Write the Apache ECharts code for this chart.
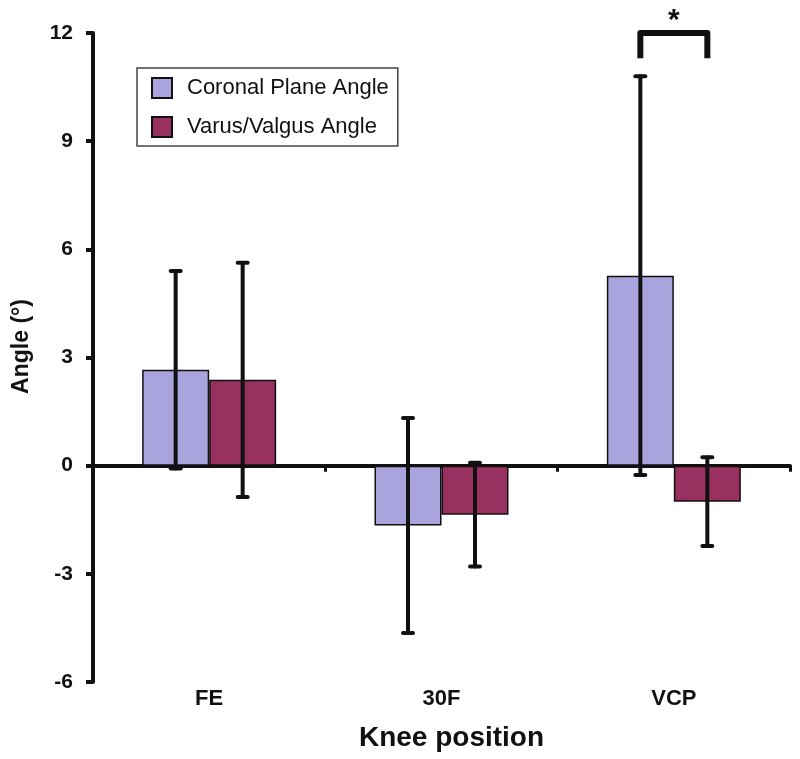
<!DOCTYPE html>
<html>
<head>
  <meta charset="utf-8">
  <title>Knee position angles</title>
  <script src="https://cdn.jsdelivr.net/npm/echarts@6/dist/echarts.min.js"></script>
</head>
<body style="margin:0;background:#fff;">
<div id="main" style="width:800px;height:759px;"></div>
<script type="text/javascript">
  // data
  var positions = ['FE', '30F', 'VCP'];
  var coronalMean = [2.66, -1.66, 5.27];
  var coronalSD = [2.74, 2.98, 5.53];
  var varusMean = [2.38, -1.36, -1.0];
  var varusSD = [3.25, 1.44, 1.23];
  var yTicks = [-6, -3, 0, 3, 6, 9, 12];
  // significance bracket: category, top and leg end (degrees)
  var sigBracket = [['VCP', 12, 11.3]];

  var barW = 67;
  var black = '#111';

  function errData(mean, sd, side) {
    return mean.map(function (m, i) {
      return [i, m + sd[i], m - sd[i], side];
    });
  }

  function renderErr(params, api) {
    var side = api.value(3);
    var x = api.coord([api.value(0), 0])[0] + side * barW / 2;
    var hi = api.coord([api.value(0), api.value(1)])[1];
    var lo = api.coord([api.value(0), api.value(2)])[1];
    var st = { stroke: black, lineWidth: 4, lineCap: 'round' };
    return {
      type: 'group',
      children: [
        { type: 'line', shape: { x1: x, y1: hi, x2: x, y2: lo }, style: st },
        { type: 'line', shape: { x1: x - 5, y1: hi, x2: x + 5, y2: hi }, style: st },
        { type: 'line', shape: { x1: x - 5, y1: lo, x2: x + 5, y2: lo }, style: st }
      ]
    };
  }

  var myChart = echarts.init(document.getElementById('main'));

  option = {
    backgroundColor: '#fff',
    animation: false,
    textStyle: { fontFamily: 'Liberation Sans, Arial, sans-serif' },
    grid: { left: 93, right: 10, top: 33, bottom: 77, outerBoundsMode: 'none', containLabel: false },
    legend: {
      orient: 'vertical',
      left: 137,
      top: 68,
      padding: [9, 9, 8, 14],
      itemGap: 17,
      itemWidth: 20,
      itemHeight: 20,
      icon: 'rect',
      backgroundColor: '#fff',
      borderColor: '#444',
      borderWidth: 1.5,
      borderRadius: 0,
      textStyle: { fontSize: 22, color: '#111', padding: [0, 0, 0, 10] },
      data: ['Coronal Plane Angle', 'Varus/Valgus Angle']
    },
    xAxis: [
      {
        type: 'category',
        data: positions,
        axisLine: { onZero: true, lineStyle: { color: black, width: 4 } },
        axisTick: { show: true, length: 6, lineStyle: { color: black, width: 3 } },
        axisLabel: { show: false }
      },
      {
        type: 'category',
        data: positions,
        position: 'bottom',
        axisLine: { show: false, onZero: false },
        axisTick: { show: false },
        axisLabel: { fontSize: 22, fontWeight: 'bold', color: '#111', margin: 6 },
        name: 'Knee position',
        nameLocation: 'middle',
        nameGap: 42,
        nameTextStyle: { fontSize: 28, fontWeight: 'bold', color: '#111', padding: [0, 0, 0, 20] }
      }
    ],
    yAxis: {
      type: 'value',
      min: -6,
      max: 12,
      interval: 3,
      splitLine: { show: false },
      axisLine: { show: true, lineStyle: { color: black, width: 4 } },
      axisTick: { show: true, length: 7, lineStyle: { color: black, width: 4 } },
      axisLabel: {
        fontSize: 21, fontWeight: 'bold', color: '#111', margin: 20,
        formatter: function (v) { return yTicks.indexOf(v) >= 0 ? String(v) : ''; }
      },
      name: 'Angle (°)',
      nameLocation: 'middle',
      nameRotate: 90,
      nameGap: 60,
      nameTextStyle: { fontSize: 23, fontWeight: 'bold', color: '#111', padding: [0, 0, 0, 22] }
    },
    series: [
      {
        name: 'Coronal Plane Angle',
        type: 'bar',
        data: coronalMean,
        barWidth: barW,
        barGap: '0%',
        itemStyle: { color: '#aaa4de', borderColor: black, borderWidth: 1.5 }
      },
      {
        name: 'Varus/Valgus Angle',
        type: 'bar',
        data: varusMean,
        barWidth: barW,
        barGap: '0%',
        itemStyle: { color: '#983160', borderColor: black, borderWidth: 1.5 }
      },
      {
        type: 'custom',
        data: errData(coronalMean, coronalSD, -1).concat(errData(varusMean, varusSD, 1)),
        renderItem: renderErr,
        clip: false,
        z: 5,
        silent: true
      },
      {
        type: 'custom',
        data: sigBracket.map(function (b) { return [positions.indexOf(b[0]), b[1], b[2]]; }),
        clip: false,
        silent: true,
        z: 6,
        renderItem: function (params, api) {
          var cx = api.coord([api.value(0), 0])[0];
          var top = api.coord([api.value(0), api.value(1)])[1];
          var leg = api.coord([api.value(0), api.value(2)])[1];
          var x1 = cx - barW / 2, x2 = cx + barW / 2;
          return {
            type: 'group',
            children: [
              {
                type: 'polyline',
                shape: { points: [[x1, leg], [x1, top], [x2, top], [x2, leg]] },
                style: { stroke: black, lineWidth: 6, fill: null, lineJoin: 'round' }
              },
              {
                type: 'text',
                style: { text: '*', x: cx, y: top - 12, align: 'center', verticalAlign: 'middle',
                  font: 'bold 30px Liberation Sans, Arial, sans-serif', fill: black }
              }
            ]
          };
        }
      }
    ]
  };

  myChart.setOption(option);
</script>
</body>
</html>
